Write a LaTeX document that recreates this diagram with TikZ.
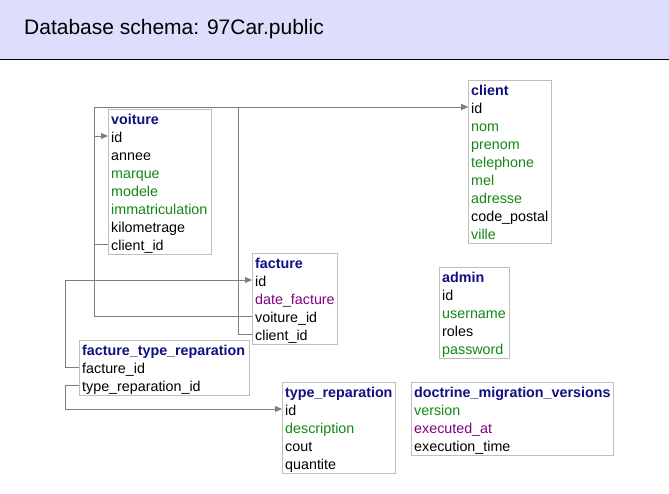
\documentclass[tikz,border=0pt]{standalone}
\usepackage{fontspec}
\setmainfont{Liberation Sans}
\usetikzlibrary{arrows.meta}
\definecolor{hdrband}{RGB}{221,221,252}
\definecolor{navy}{RGB}{16,16,128}
\definecolor{grn}{RGB}{20,135,20}
\definecolor{prp}{RGB}{128,0,128}
\definecolor{boxgrey}{RGB}{190,190,190}
\definecolor{linegrey}{RGB}{125,125,125}
\tikzset{
  tbl/.style={draw=boxgrey, fill=white, line width=1pt, anchor=north west, inner sep=0pt},
  hdr/.style={anchor=base west, inner xsep=3pt, inner ysep=0pt, text=navy, font=\fontsize{14.3}{16}\selectfont\bfseries},
  rowtxt/.style={anchor=west, inner xsep=3pt, inner ysep=0pt, text height=14pt, text depth=2pt, font=\fontsize{14.3}{16}\selectfont},
  fk/.style={draw=linegrey, line width=1pt, -{Triangle[length=7pt,width=6pt]}},
}
\newcommand\dbtab[7]{%
  \node[tbl, minimum width=#4pt, minimum height=#5pt] (#1) at (#2,#3) {};
  \node[hdr] (#1-h) at ([yshift=-15pt]#1.north west) {#6};
  \foreach \t/\c [count=\i] in {#7} {
    \pgfmathsetmacro\yy{27+18*(\i-1)}
    \node[rowtxt, text=\c] (#1-\i) at ([yshift=-\yy pt]#1.north west) {\t};
  }
}
\begin{document}
\begin{tikzpicture}[x=1pt, y=-1pt]
\useasboundingbox (0,0) rectangle (669,493);
\fill[white] (0,0) rectangle (669,493);
\fill[hdrband] (0,0) rectangle (669,59);
\draw[black, line width=1.2pt] (0,59.5) -- (669,59.5);
\node[anchor=base west, inner sep=0pt, font=\fontsize{21}{25}\selectfont] (title) at (24,34) {Database schema: 97Car.public};

\coordinate (busA) at (94,0);
\coordinate (busB) at (238,0);
\coordinate (busC) at (65,0);

\dbtab{voiture}{108}{109}{103}{145}{voiture}{id/black, annee/black, marque/grn, modele/grn, immatriculation/grn, kilometrage/black, client\_id/black}
\dbtab{client}{468}{80}{83}{163}{client}{id/black, nom/grn, prenom/grn, telephone/grn, mel/grn, adresse/grn, code\_postal/black, ville/grn}
\dbtab{facture}{252}{253}{85}{91}{facture}{id/black, date\_facture/prp, voiture\_id/black, client\_id/black}
\dbtab{admin}{439}{267}{70}{91}{admin}{id/black, username/grn, roles/black, password/grn}
\dbtab{ftr}{79}{340}{170}{55}{facture\_type\_reparation}{facture\_id/black, type\_reparation\_id/black}
\dbtab{tr}{282}{382}{113}{91}{type\_reparation}{id/black, description/grn, cout/black, quantite/black}
\dbtab{dmv}{411}{382}{202}{73}{doctrine\_migration\_versions}{version/grn, executed\_at/prp, execution\_time/black}

\draw[fk] (voiture-7.west) -| (busA |- client-1.west) -- (client-1.west);
\draw[fk] (facture-3.west) -| (busA |- voiture-1.west) -- (voiture-1.west);
\draw[fk] (facture-4.west) -| (busB |- client-1.west) -- (client-1.west);
\draw[fk] (ftr-1.west) -| (busC |- facture-1.west) -- (facture-1.west);
\draw[fk] (ftr-2.west) -| (busC |- tr-1.west) -- (tr-1.west);
\end{tikzpicture}
\end{document}
